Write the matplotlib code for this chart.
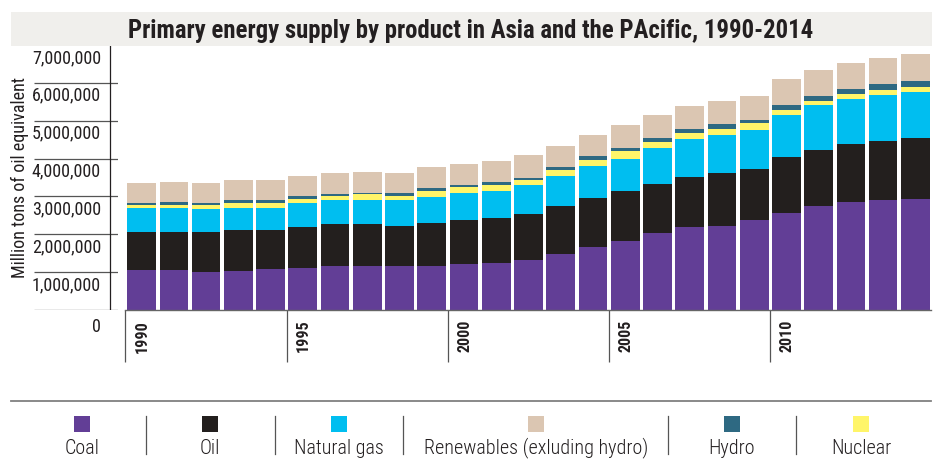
import numpy as np
import matplotlib
matplotlib.use("Agg")
import matplotlib.pyplot as plt
from matplotlib.patches import Rectangle
from matplotlib.lines import Line2D

# data (tons of oil equivalent, as labelled)
years = list(range(1990, 2015))
coal = [1055, 1055, 1003, 1030, 1080, 1108, 1160, 1160, 1160, 1160, 1210, 1240, 1320,
        1480, 1660, 1820, 2030, 2190, 2220, 2375, 2560, 2740, 2850, 2900, 2930]
oil = [1003, 1003, 1055, 1080, 1030, 1082, 1110, 1110, 1060, 1140, 1160, 1190, 1210,
       1260, 1295, 1320, 1290, 1320, 1390, 1345, 1480, 1480, 1530, 1560, 1610]
natural_gas = [632, 632, 607, 580, 580, 630, 630, 630, 680, 680, 720, 710, 770,
               800, 845, 840, 950, 1000, 1010, 1030, 1105, 1190, 1190, 1210, 1210]
nuclear = [80, 80, 115, 130, 130, 110, 120, 160, 120, 160, 160, 160, 130,
           150, 160, 215, 160, 160, 160, 180, 135, 100, 130, 130, 130]
hydro = [60, 90, 50, 80, 80, 80, 50, 40, 80, 80, 50, 80, 50,
         80, 100, 75, 110, 110, 130, 80, 130, 140, 130, 160, 160]
renewables = [520, 520, 520, 530, 530, 530, 540, 540, 510, 550, 550, 550, 610,
              560, 560, 610, 605, 600, 600, 640, 685, 680, 690, 690, 710]

yticks = [0, 1000000, 2000000, 3000000, 4000000, 5000000, 6000000, 7000000]
year_ticks = [1990, 1995, 2000, 2005, 2010]

# stacking order bottom -> top
stack = [
    (coal, "#623e96"),
    (oil, "#231f1e"),
    (natural_gas, "#00bef0"),
    (nuclear, "#fff569"),
    (hydro, "#2e6982"),
    (renewables, "#dbc6b2"),
]
legend_labels = ["Coal", "Oil", "Natural gas", "Renewables (exluding hydro)", "Hydro", "Nuclear"]
legend_colors = ["#623e96", "#231f1e", "#00bef0", "#dbc6b2", "#2e6982", "#fff569"]

# condensed faces, DejaVu Sans Condensed as a fallback
plt.rcParams["font.family"] = ["Roboto Condensed", "DejaVu Sans"]
plt.rcParams["font.stretch"] = "condensed"
TXT = "#231f20"

W, H = 937, 463
fig = plt.figure(figsize=(W / 100, H / 100), dpi=100)

def fx(px):
    return px / W

def fy(py):
    return 1 - py / H

# main bar panel
ax = fig.add_axes([fx(125.5), fy(310), fx(931.5) - fx(125.5), fy(45) - fy(310)])
x = np.arange(len(years))
bottom = np.zeros(len(years))
for vals, col in stack:
    v = np.array(vals) * 1000.0
    ax.bar(x, v, width=0.89, bottom=bottom, color=col, linewidth=0)
    bottom += v

ax.set_xlim(-0.5, len(years) - 0.5)
ax.set_ylim(0, 7000000)
for s in ["top", "left", "right"]:
    ax.spines[s].set_visible(False)
ax.spines["bottom"].set_color("#666666")
ax.spines["bottom"].set_linewidth(1.0)
ax.set_yticks([])
tick_pos = [years.index(yr) - 0.5 for yr in year_ticks]
ax.set_xticks(tick_pos)
ax.set_xticklabels([])
ax.tick_params(axis="x", length=37.4, width=0.9, color="#555555", direction="out")
for yr, p in zip(year_ticks, tick_pos):
    ax.text(p + 0.29, -0.037, str(yr), transform=ax.get_xaxis_transform(),
            rotation=90, ha="left", va="top", fontsize=11.5, fontweight="bold",
            color=TXT)

# left panel with the value scale
ay = fig.add_axes([0, fy(310), fx(118), fy(45) - fy(310)])
ay.set_xlim(0, 118)
ay.set_ylim(0, 7000000)
ay.axis("off")
ay.hlines(yticks[:-1], 34, 118, color="#555555", linewidth=0.9)
ay.vlines(110, 0, 7000000, color=TXT, linewidth=0.9)
for v in yticks:
    off = 450000 if v == 0 else 340000
    ay.text(101, v - off, f"{v:,}", ha="right", va="center", fontsize=13,
            color=TXT, clip_on=False)
ay.text(20, 3500000, "Million tons of oil equivalent", rotation=90,
        ha="center", va="center", fontsize=13, color=TXT)

# title band
fig.patches.append(Rectangle((fx(11), fy(45.7)), fx(932) - fx(11), fy(12) - fy(45.7),
                             transform=fig.transFigure, facecolor="#f0efec",
                             edgecolor="none", zorder=0))
fig.text(fx(471), fy(38.3),
         "Primary energy supply by product in Asia and the PAcific, 1990-2014",
         ha="center", va="baseline", fontsize=17.8, fontweight="bold", color=TXT)

# legend
fig.add_artist(Line2D([fx(11), fx(931)], [fy(400.7), fy(400.7)],
                      transform=fig.transFigure, color="#808080", linewidth=1.3))
legend_x = [82, 210, 339, 536, 732, 861]
for lab, col, cx in zip(legend_labels, legend_colors, legend_x):
    fig.patches.append(Rectangle((fx(cx - 8), fy(432)), fx(16), fy(416) - fy(432),
                                 transform=fig.transFigure, facecolor=col,
                                 edgecolor="none"))
    fig.text(fx(cx), fy(448), lab, ha="center", va="center", fontsize=14.5,
             fontweight="light", color=TXT)
for sx in [146, 275, 403, 668, 796]:
    fig.add_artist(Line2D([fx(sx), fx(sx)], [fy(416), fy(454)],
                          transform=fig.transFigure, color="#555555", linewidth=0.9))

fig.savefig("out.png", dpi=100)
